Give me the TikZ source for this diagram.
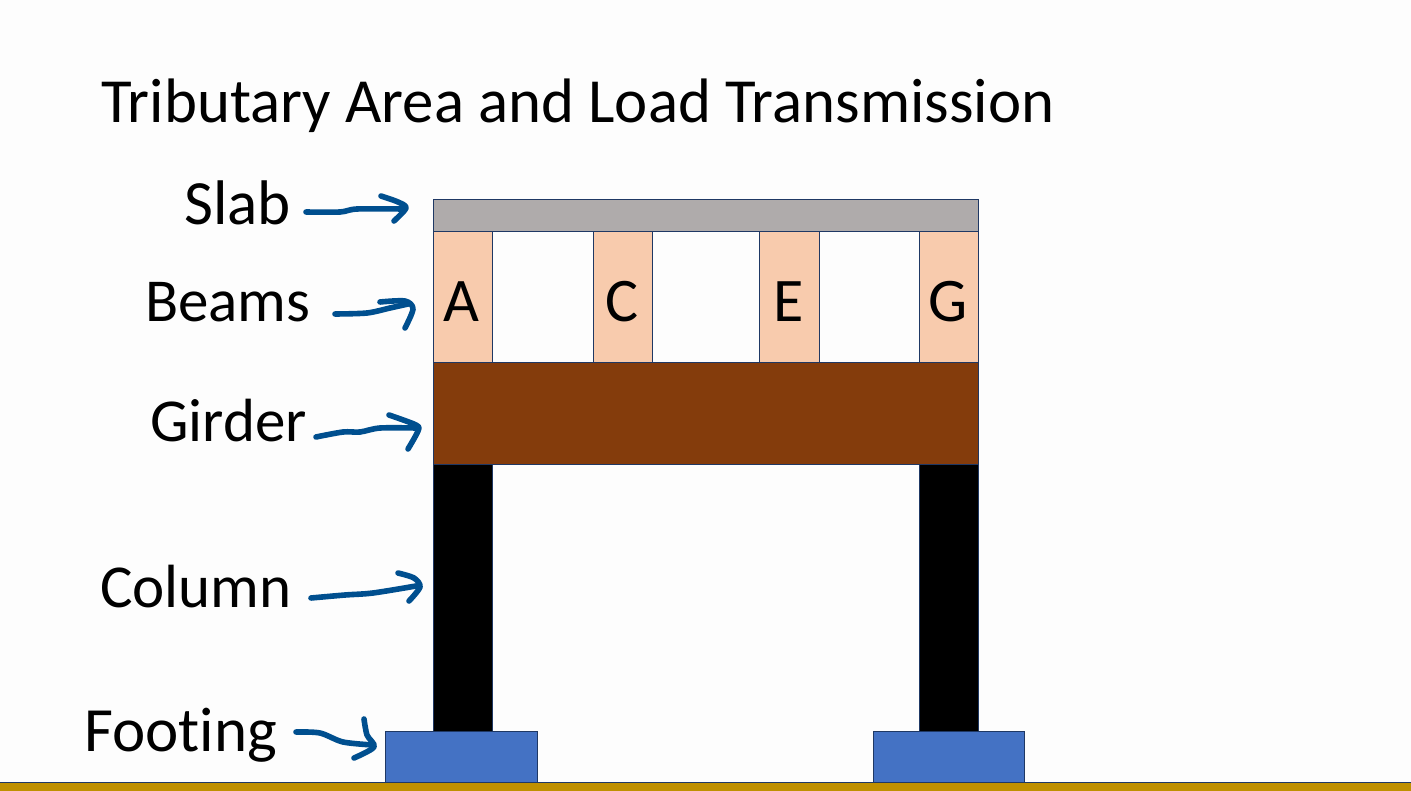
\documentclass[tikz,border=0pt]{standalone}
\usepackage{fontspec}
\setmainfont[Ligatures=NoCommon]{Carlito}
\definecolor{slabgray}{HTML}{AFABAB}
\definecolor{beampeach}{HTML}{F8CBAD}
\definecolor{girderbrown}{HTML}{843C0C}
\definecolor{footblue}{HTML}{4472C4}
\definecolor{edgenavy}{HTML}{1F3864}
\definecolor{inkblue}{HTML}{004F8F}
\definecolor{bandgold}{HTML}{BF9000}
\definecolor{pagewhite}{HTML}{FDFDFD}
\tikzset{
  member/.style={draw=edgenavy, line width=0.9pt},
  heading/.style={anchor=base west, inner sep=0pt, font=\fontsize{62.8}{68}\selectfont},
  label/.style={anchor=base west, inner sep=0pt, font=\fontsize{61}{66}\selectfont},
  widelabel/.style={label, font=\fontsize{63}{68}\selectfont},
  beamletter/.style={anchor=base, inner sep=0pt, font=\fontsize{62}{66}\selectfont},
  ink/.style={draw=inkblue, line width=5.6pt, line cap=round, line join=round}
}
\begin{document}
\begin{tikzpicture}[x=1pt,y=-1pt]
\useasboundingbox (0,0) rectangle (1411,791);
\fill [pagewhite] (0,0) rectangle (1411,791);
\fill [bandgold] (0,782) rectangle (1411,791);
\draw [edgenavy, line width=0.9pt] (0,782) -- (1411,782);

\node [heading] (title) at (101,123) {Tributary Area and Load Transmission};

% slab and beams
\draw [member, fill=slabgray] (433,199) rectangle (978,231);
\draw [member, fill=beampeach] (433,231) rectangle (492,362);
\draw [member, fill=beampeach] (593,231) rectangle (652,362);
\draw [member, fill=beampeach] (759,231) rectangle (819,362);
\draw [member, fill=beampeach] (919,231) rectangle (978,362);
\node [beamletter] (beamA) at (461.5,322) {A};
\node [beamletter] (beamC) at (622.5,322) {C};
\node [beamletter] (beamE) at (789,322) {E};
\node [beamletter] (beamG) at (948.5,322) {G};

% girder, columns, footings
\draw [member, fill=girderbrown] (433,362) rectangle (978,464);
\draw [member, fill=black] (433,464) rectangle (492,731);
\draw [member, fill=black] (919,464) rectangle (978,731);
\draw [member, fill=footblue] (385,731) rectangle (537,782);
\draw [member, fill=footblue] (873,731) rectangle (1024,782);

\node [widelabel] (slab) at (184,225) {Slab};
\node [label] (beams) at (145,322) {Beams};
\node [label] (girder) at (150,441) {Girder};
\node [label] (column) at (100,607) {Column};
\node [widelabel] (footing) at (84,751) {Footing};

% hand drawn arrows
\draw [ink] plot [smooth] coordinates {(306,212) (340,212) (357,209) (403,209)};
\draw [ink] plot [smooth] coordinates {(381,196) (398,202) (406,208) (394,221)};

\draw [ink] plot [smooth] coordinates {(335,314) (367,313) (390,308) (408,304)};
\draw [ink] plot [smooth] coordinates {(380,302) (405,301) (413,309) (405,328)};

\draw [ink] plot [smooth] coordinates {(316,437) (343,432) (360,432) (380,428) (416,428)};
\draw [ink] plot [smooth] coordinates {(389,415) (416,425) (418,431) (408,449)};

\draw [ink] plot [smooth] coordinates {(311,598) (345,595) (373,593) (416,586)};
\draw [ink] plot [smooth] coordinates {(398,573) (414,578) (420,587) (409,601)};

\draw [ink] plot [smooth] coordinates {(296,732) (320,733) (343,742) (373,745)};
\draw [ink] plot [smooth] coordinates {(364,719) (367,735) (374,747) (354,758)};
\end{tikzpicture}
\end{document}
